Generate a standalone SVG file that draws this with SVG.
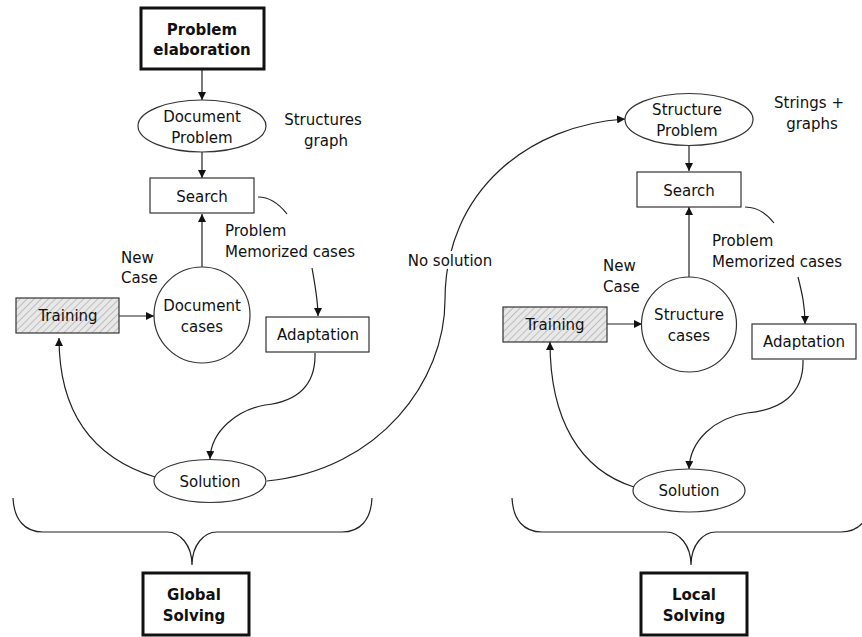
<svg xmlns="http://www.w3.org/2000/svg" width="862" height="637" viewBox="0 0 862 637">
<defs>
<marker id="arr" viewBox="0 0 10 10" refX="10" refY="5" markerWidth="8" markerHeight="8" markerUnits="userSpaceOnUse" orient="auto">
<path d="M0,0 L10,5 L0,10 z" fill="#111"/>
</marker>
<pattern id="hatch" width="5" height="5" patternUnits="userSpaceOnUse" patternTransform="rotate(45)">
<rect width="5" height="5" fill="#e8e8e8"/>
<line x1="0" y1="0" x2="0" y2="5" stroke="#b0b0b0" stroke-width="1.5"/>
</pattern>
<style>
text{font-family:"DejaVu Sans","Liberation Sans",sans-serif;font-size:15px;fill:#111;text-anchor:middle}
.l{text-anchor:start}
.b{font-weight:bold}
.n{fill:#fff;stroke:#333;stroke-width:1.2}
.t{fill:#fff;stroke:#111;stroke-width:3}
.h{fill:url(#hatch);stroke:#333;stroke-width:1.2}
.c{fill:none;stroke:#222;stroke-width:1.2}
.a{marker-end:url(#arr)}
.halo{stroke:#fff;stroke-width:6;paint-order:stroke;stroke-linejoin:round}
</style>
</defs>

<g id="connectors">
<path class="c a" d="M202,70 L202,100"/>
<path class="c a" d="M202,152 L202,178"/>
<path class="c a" d="M202,267 L202,214"/>
<path class="c" d="M258,197 C270,197 280,205 287,214"/>
<path class="c a" d="M312,268 C315,285 318,300 318,316"/>
<path class="c a" d="M119,316 L154,316"/>
<path class="c a" d="M315,353 C316,390 292,402 265,405 C238,410 211,430 210,459"/>
<path class="c a" d="M155,477 C100,460 59,420 59,338"/>
<path class="c a" d="M267,481 C380,470 445,380 445,300 C445,190 530,125 625,119"/>
<path class="c a" d="M689,146 L689,171"/>
<path class="c a" d="M689,277 L689,207"/>
<path class="c" d="M745,207 C757,207 767,214 774,223"/>
<path class="c a" d="M798,277 C802,293 805,305 805,324"/>
<path class="c a" d="M607,324 L642,324"/>
<path class="c a" d="M803,360 C804,395 780,410 747,413 C715,418 690,440 689,469"/>
<path class="c a" d="M634,487 C580,470 550,420 550,342"/>
<path class="c" d="M13,498 C14,520 25,532 43,532 L167,532 C180,532 192,545 192,565 C192,545 204,532 217,532 L342,532 C360,532 371,520 372,498"/>
<path class="c" d="M512,498 C513,520 524,532 542,532 L666,532 C679,532 691,545 691,565 C691,545 703,532 716,532 L841,532 C859,532 870,520 871,498"/>
</g>

<g id="problem-elaboration">
<rect class="t" x="141" y="8" width="123" height="61"/>
<text class="b" x="202" y="35">Problem</text>
<text class="b" x="202" y="55">elaboration</text>
</g>

<g id="document-problem">
<ellipse class="n" cx="202" cy="126" rx="64" ry="26"/>
<text x="202" y="122">Document</text>
<text x="202" y="143">Problem</text>
</g>

<g id="structures-graph">
<text x="323" y="125">Structures</text>
<text x="326" y="146">graph</text>
</g>

<g id="search-left">
<rect class="n" x="150" y="178" width="104" height="35"/>
<text x="202" y="202">Search</text>
</g>

<g id="label-left-memorized">
<text class="l" x="225" y="236">Problem</text>
<text class="l" x="225" y="257">Memorized cases</text>
</g>

<g id="label-left-newcase">
<text class="l" x="121" y="263">New</text>
<text class="l" x="121" y="283">Case</text>
</g>

<g id="document-cases">
<circle class="n" cx="202" cy="315" r="48"/>
<text x="202" y="311">Document</text>
<text x="202" y="332">cases</text>
</g>

<g id="training-left">
<rect class="h" x="16" y="298" width="103" height="35"/>
<text x="68" y="321">Training</text>
</g>

<g id="adaptation-left">
<rect class="n" x="266" y="317" width="103" height="35"/>
<text x="318" y="340">Adaptation</text>
</g>

<g id="solution-left">
<ellipse class="n" cx="210" cy="481" rx="56" ry="21.5"/>
<text x="210" y="487">Solution</text>
</g>

<g id="no-solution">
<text class="halo" x="450" y="266">No solution</text>
</g>

<g id="global-solving">
<rect class="t" x="143" y="573" width="106" height="62"/>
<text class="b" x="194" y="600">Global</text>
<text class="b" x="194" y="621">Solving</text>
</g>

<g id="structure-problem">
<ellipse class="n" cx="689" cy="119.5" rx="64" ry="26"/>
<text x="687" y="115">Structure</text>
<text x="687" y="136">Problem</text>
</g>

<g id="strings-graphs">
<text x="809" y="108">Strings +</text>
<text x="812" y="129">graphs</text>
</g>

<g id="search-right">
<rect class="n" x="637" y="172" width="104" height="35"/>
<text x="689" y="196">Search</text>
</g>

<g id="label-right-memorized">
<text class="l" x="712" y="246">Problem</text>
<text class="l" x="712" y="267">Memorized cases</text>
</g>

<g id="label-right-newcase">
<text class="l" x="603" y="271">New</text>
<text class="l" x="603" y="292">Case</text>
</g>

<g id="structure-cases">
<circle class="n" cx="689" cy="324.5" r="47.5"/>
<text x="689" y="320">Structure</text>
<text x="689" y="341">cases</text>
</g>

<g id="training-right">
<rect class="h" x="503" y="307" width="104" height="35"/>
<text x="555" y="330">Training</text>
</g>

<g id="adaptation-right">
<rect class="n" x="752" y="324" width="104" height="35"/>
<text x="804" y="347">Adaptation</text>
</g>

<g id="solution-right">
<ellipse class="n" cx="689" cy="490.5" rx="56" ry="21.5"/>
<text x="689" y="496">Solution</text>
</g>

<g id="local-solving">
<rect class="t" x="641" y="573" width="106" height="62"/>
<text class="b" x="694" y="600">Local</text>
<text class="b" x="694" y="621">Solving</text>
</g>
</svg>
